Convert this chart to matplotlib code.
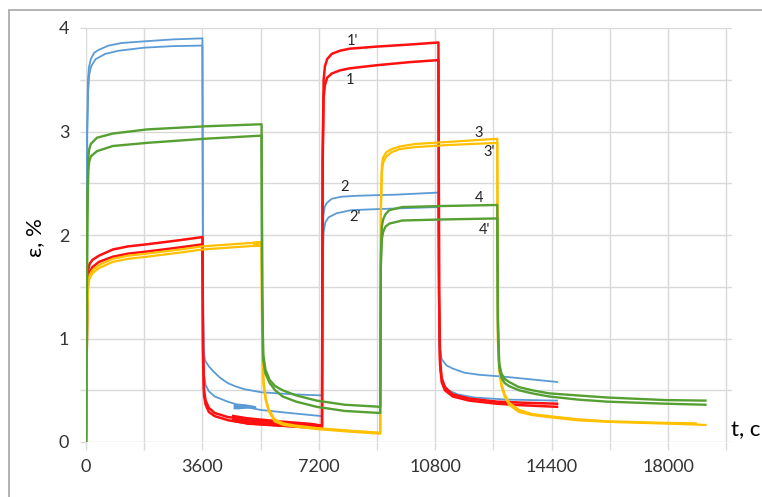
import numpy as np
import matplotlib.pyplot as plt
from matplotlib.patches import Rectangle
from matplotlib.ticker import MultipleLocator, FuncFormatter

plt.rcParams['font.family'] = ['Lato', 'DejaVu Sans']

# Кривые ползучести и восстановления: пары (t, c ; ε, %)
blue1 = [(0, 0), (30, 2.9), (60, 3.5), (90, 3.62), (150, 3.70), (250, 3.76), (400, 3.79),
         (700, 3.83), (1100, 3.855), (1750, 3.87), (2700, 3.89), (3600, 3.90),
         (3620, 1.5), (3640, 0.88), (3680, 0.79), (3800, 0.73), (3980, 0.67), (4150, 0.62),
         (4380, 0.57), (4600, 0.54), (4900, 0.51), (5430, 0.48), (6450, 0.46), (7300, 0.45),
         (7320, 1.9), (7340, 2.18), (7380, 2.27), (7450, 2.31), (7600, 2.35), (7900, 2.37),
         (8460, 2.38), (9600, 2.39), (10900, 2.41),
         (10920, 1.3), (10950, 0.9), (11000, 0.80), (11150, 0.74), (11340, 0.71), (11700, 0.67),
         (12140, 0.65), (12970, 0.63), (14570, 0.58)]

blue2 = [(0, 0), (40, 3.0), (70, 3.4), (100, 3.55), (160, 3.63), (300, 3.70), (600, 3.75),
         (1000, 3.78), (1800, 3.81), (2700, 3.825), (3600, 3.83),
         (3620, 1.2), (3650, 0.65), (3700, 0.55), (3800, 0.49), (3980, 0.44), (4380, 0.39),
         (4900, 0.34), (5400, 0.31), (6300, 0.28), (7300, 0.25),
         (7320, 1.7), (7350, 2.03), (7400, 2.12), (7500, 2.17), (7750, 2.21), (8200, 2.24),
         (9000, 2.25), (10900, 2.27),
         (10920, 1.0), (10960, 0.68), (11050, 0.56), (11200, 0.50), (11500, 0.46), (12000, 0.43),
         (13000, 0.41), (14570, 0.40)]

red1 = [(0, 0), (40, 1.5), (70, 1.66), (110, 1.72), (200, 1.76), (400, 1.80), (830, 1.86),
        (1300, 1.89), (1880, 1.91), (2900, 1.95), (3600, 1.98),
        (3620, 0.9), (3650, 0.50), (3700, 0.40), (3800, 0.33), (3980, 0.28), (4400, 0.24),
        (5000, 0.22), (6000, 0.19), (7300, 0.16),
        (7320, 2.8), (7350, 3.50), (7390, 3.63), (7460, 3.70), (7600, 3.75), (7850, 3.78),
        (8150, 3.80), (8980, 3.82), (10000, 3.84), (10900, 3.86),
        (10920, 1.5), (10950, 0.80), (11000, 0.62), (11100, 0.53), (11340, 0.46), (11850, 0.42),
        (12700, 0.39), (13500, 0.38), (14570, 0.37)]

red2 = [(0, 0), (40, 1.45), (70, 1.58), (110, 1.64), (200, 1.69), (400, 1.74), (830, 1.79),
        (1300, 1.82), (1880, 1.84), (2900, 1.88), (3600, 1.91),
        (3620, 0.8), (3650, 0.45), (3700, 0.36), (3800, 0.29), (3980, 0.25), (4400, 0.21),
        (5000, 0.18), (6000, 0.16), (7300, 0.13),
        (7320, 2.7), (7350, 3.33), (7390, 3.45), (7460, 3.52), (7600, 3.56), (7850, 3.59),
        (8150, 3.61), (8980, 3.64), (10000, 3.67), (10900, 3.69),
        (10920, 1.4), (10950, 0.75), (11000, 0.58), (11100, 0.50), (11340, 0.44), (11850, 0.40),
        (12700, 0.37), (13500, 0.355), (14570, 0.34)]

green1 = [(0, 0), (40, 2.2), (70, 2.75), (100, 2.83), (150, 2.88), (340, 2.94), (830, 2.98),
          (1880, 3.02), (3670, 3.05), (5430, 3.07),
          (5450, 1.5), (5480, 0.85), (5550, 0.70), (5680, 0.60), (5850, 0.54), (6080, 0.50),
          (6500, 0.45), (7130, 0.40), (8000, 0.36), (9100, 0.34),
          (9120, 1.8), (9150, 2.08), (9190, 2.15), (9260, 2.20), (9380, 2.24), (9780, 2.27),
          (11020, 2.28), (12720, 2.29),
          (12740, 1.2), (12780, 0.76), (12850, 0.66), (12950, 0.61), (13085, 0.58), (13390, 0.53),
          (13800, 0.50), (14320, 0.47), (15200, 0.45), (16110, 0.43), (17930, 0.405), (19160, 0.40)]

green2 = [(0, 0), (40, 2.1), (70, 2.62), (100, 2.71), (150, 2.76), (340, 2.81), (830, 2.86),
          (1880, 2.89), (3670, 2.93), (5430, 2.96),
          (5450, 1.4), (5480, 0.80), (5550, 0.66), (5680, 0.57), (5850, 0.50), (6080, 0.44),
          (6500, 0.39), (7130, 0.34), (8000, 0.30), (9100, 0.28),
          (9120, 1.7), (9150, 1.96), (9190, 2.03), (9260, 2.08), (9380, 2.11), (9780, 2.14),
          (11020, 2.15), (12720, 2.16),
          (12740, 1.1), (12780, 0.72), (12850, 0.62), (12950, 0.57), (13085, 0.54), (13390, 0.50),
          (13800, 0.47), (14320, 0.44), (15200, 0.41), (16110, 0.39), (17930, 0.37), (19160, 0.36)]

yellow1 = [(0, 0), (40, 1.35), (70, 1.54), (110, 1.61), (200, 1.66), (400, 1.71), (830, 1.77),
           (1300, 1.80), (1880, 1.82), (2900, 1.86), (3600, 1.89), (4500, 1.91), (5430, 1.93),
           (5450, 1.0), (5490, 0.6), (5560, 0.42), (5650, 0.32), (5830, 0.22), (6100, 0.18),
           (6450, 0.16), (7130, 0.135), (8150, 0.11), (9100, 0.09),
           (9120, 2.3), (9150, 2.68), (9190, 2.75), (9290, 2.80), (9450, 2.83), (9700, 2.855),
           (10200, 2.88), (11240, 2.90), (12720, 2.93),
           (12740, 1.0), (12780, 0.72), (12850, 0.56), (12950, 0.46), (13085, 0.38), (13390, 0.31),
           (13800, 0.27), (14320, 0.25), (15200, 0.22), (16110, 0.20), (17930, 0.185), (18860, 0.18)]

yellow2 = [(0, 0), (40, 1.3), (70, 1.50), (110, 1.58), (200, 1.63), (400, 1.68), (830, 1.74),
           (1300, 1.77), (1880, 1.79), (2900, 1.83), (3600, 1.86), (4500, 1.88), (5430, 1.90),
           (5450, 0.9), (5490, 0.55), (5560, 0.40), (5650, 0.30), (5830, 0.20), (6100, 0.165),
           (6450, 0.15), (7130, 0.125), (8150, 0.10), (9100, 0.08),
           (9120, 2.2), (9150, 2.60), (9190, 2.70), (9290, 2.76), (9450, 2.80), (9700, 2.83),
           (10200, 2.85), (11240, 2.87), (12720, 2.89),
           (12740, 0.95), (12780, 0.70), (12850, 0.54), (12950, 0.44), (13085, 0.36), (13390, 0.29),
           (13800, 0.26), (14320, 0.24), (15200, 0.21), (16110, 0.195), (17930, 0.178), (19160, 0.165)]

# шумовые участки записи
red_band_t = [4500, 5000, 6000, 7000, 7300]
red_band_lo = [0.20, 0.17, 0.15, 0.135, 0.13]
red_band_hi = [0.27, 0.245, 0.215, 0.19, 0.17]

blue_blob_t = [4550, 4700, 4900, 5100, 5250]
blue_blob_lo = [0.32, 0.32, 0.325, 0.33, 0.33]
blue_blob_hi = [0.37, 0.375, 0.37, 0.36, 0.35]

yellow_blob_t = [5150, 5430]
yellow_blob_lo = [1.89, 1.89]
yellow_blob_hi = [1.94, 1.95]

curve_labels = ["1'", "1", "2", "2'", "3", "3'", "4", "4'"]
label_t = [8240, 8150, 7990, 8330, 12160, 12470, 12160, 12310]
label_e = [3.87, 3.50, 2.46, 2.17, 2.99, 2.80, 2.36, 2.05]

BLUE = '#5B9BD5'
RED = '#FF1010'
GREEN = '#56A033'
YELLOW = '#FFC000'
GRID = '#D9D9D9'


def draw(ax, pts, color, lw):
    t, e = np.array(pts).T
    ax.plot(t, e, color=color, lw=lw, solid_joinstyle='round')


fig = plt.figure(figsize=(7.62, 4.97), dpi=100)
ax = fig.add_axes([86 / 762, 1 - 442 / 497, (732 - 86) / 762, (442 - 28) / 497])

ax.fill_between(blue_blob_t, blue_blob_lo, blue_blob_hi, color=BLUE, lw=0)
draw(ax, blue1, BLUE, 1.3)
draw(ax, blue2, BLUE, 1.3)
ax.fill_between(red_band_t, red_band_lo, red_band_hi, color=RED, lw=0)
draw(ax, red1, RED, 1.8)
draw(ax, red2, RED, 1.8)
ax.fill_between(yellow_blob_t, yellow_blob_lo, yellow_blob_hi, color=YELLOW, lw=0)
draw(ax, yellow1, YELLOW, 1.6)
draw(ax, yellow2, YELLOW, 1.6)
draw(ax, green1, GREEN, 1.7)
draw(ax, green2, GREEN, 1.7)

for s, t, e in zip(curve_labels, label_t, label_e):
    ax.text(t, e, s, fontsize=10.5, ha='center', va='center', color='#222222')

ax.set_xlim(0, 19980)
ax.set_ylim(0, 4)
ax.xaxis.set_major_locator(MultipleLocator(1800))
ax.yaxis.set_major_locator(MultipleLocator(0.5))
ax.xaxis.set_major_formatter(FuncFormatter(lambda v, p: f'{v:.0f}' if round(v) % 3600 == 0 and v < 19000 else ''))
ax.yaxis.set_major_formatter(FuncFormatter(lambda v, p: f'{v:.0f}' if abs(v - round(v)) < 1e-6 else ''))
ax.grid(True, color=GRID, lw=1)
for sp in ax.spines.values():
    sp.set_visible(False)
ax.tick_params(axis='y', length=4, width=1, color=GRID, labelsize=13, pad=8, labelcolor='#333333')
ax.tick_params(axis='x', length=6, width=1, color=GRID, labelsize=13, pad=6, labelcolor='#333333')
ax.set_axisbelow(True)

fig.text(35 / 762, 1 - 238 / 497, 'ε, %', rotation=90, ha='center', va='center', fontsize=16)
fig.text(731 / 762, 1 - 430 / 497, 't, c', ha='left', va='center', fontsize=16)

fig.patches.append(Rectangle((9 / 762, -0.02), 1.0, 1 - 10 / 497 + 0.02, transform=fig.transFigure,
                             fill=False, edgecolor='#A6A6A6', lw=1.2))

fig.savefig('out.png', dpi=100)
